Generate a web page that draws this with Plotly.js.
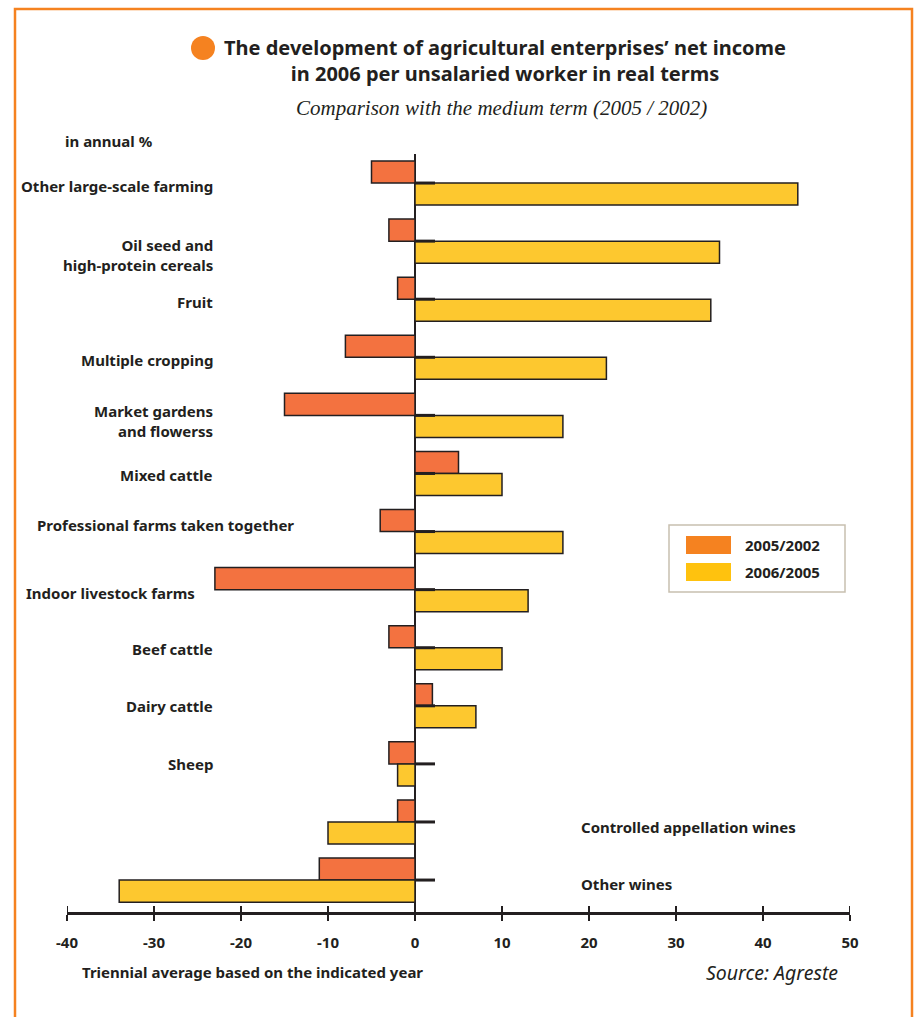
<!DOCTYPE html>
<html>
<head>
<meta charset="utf-8">
<script src="https://cdn.plot.ly/plotly-3.0.1.min.js"></script>
<style>
html,body{margin:0;padding:0;background:#fff;}
#chart{width:917px;height:1017px;}
</style>
</head>
<body>
<div id="chart"></div>
<script>
// ---- data ----
const categories = [
  "Other large-scale farming",
  "Oil seed and high-protein cereals",
  "Fruit",
  "Multiple cropping",
  "Market gardens and flowerss",
  "Mixed cattle",
  "Professional farms taken together",
  "Indoor livestock farms",
  "Beef cattle",
  "Dairy cattle",
  "Sheep",
  "Controlled appellation wines",
  "Other wines"
];
const labelTexts = [
  "Other large-scale farming",
  "Oil seed and<br>high-protein cereals",
  "Fruit",
  "Multiple cropping",
  "Market gardens<br>and flowerss",
  "Mixed cattle",
  "Professional farms taken together",
  "Indoor livestock farms",
  "Beef cattle",
  "Dairy cattle",
  "Sheep",
  "Controlled appellation wines",
  "Other wines"
];
const series2005_2002 = [-5, -3, -2, -8, -15, 5, -4, -23, -3, 2, -3, -2, -11];
const series2006_2005 = [44, 35, 34, 22, 17, 10, 17, 13, 10, 7, -2, -10, -34];
const seriesNames = ["2005/2002", "2006/2005"];
const xTicks = [-40, -30, -20, -10, 0, 10, 20, 30, 40, 50];

// ---- styles / layout helpers ----
const W = 917, H = 1017;
const plotL = 67, plotR = 850, plotT = 154, plotB = 912;
const px = x => (x - plotL) / (plotR - plotL);
const py = y => (plotB - y) / (plotB - plotT);
const ink = "#231F20";
const orangeBar = "#F37240", yellowBar = "#FDC82F";
const orangeKey = "#F58220", yellowKey = "#FFC20E";
const sans = "Noto Sans, Open Sans, sans-serif";
const labelSize = 15;

// label placement (pixels): [x, anchor, yCenter]
const labelPos = [
  [215, "right", 186],
  [215, "right", 255],
  [215, "right", 302],
  [215, "right", 360],
  [215, "right", 421],
  [215, "right", 475],
  [296, "right", 525],
  [197, "right", 593],
  [215, "right", 649],
  [215, "right", 706],
  [215, "right", 764],
  [579, "left", 827],
  [579, "left", 884]
];

const traces = [
  {type: "bar", orientation: "h", name: seriesNames[0], y: categories, x: series2005_2002,
   marker: {color: orangeBar, line: {color: ink, width: 1.5}}, showlegend: false, hoverinfo: "x+y"},
  {type: "bar", orientation: "h", name: seriesNames[1], y: categories, x: series2006_2005,
   marker: {color: yellowBar, line: {color: ink, width: 1.5}}, showlegend: false, hoverinfo: "x+y"}
];

const shapes = [];
const annotations = [];

// frame
shapes.push({type: "rect", xref: "paper", yref: "paper", x0: px(15), x1: px(912), y0: py(1040), y1: py(9),
  line: {color: orangeKey, width: 2.5}, fillcolor: "rgba(0,0,0,0)", layer: "below"});
// title bullet
shapes.push({type: "circle", xref: "paper", yref: "paper", x0: px(191), x1: px(215), y0: py(60), y1: py(36),
  line: {width: 0}, fillcolor: orangeKey});
// short marks at each category centre
categories.forEach((c, i) => {
  shapes.push({type: "line", xref: "x", yref: "y", x0: 0, x1: 2.3, y0: i, y1: i,
    line: {color: ink, width: 3}});
});
// upward half of the axis ticks
xTicks.forEach(v => {
  shapes.push({type: "line", xref: "x", yref: "paper", x0: v, x1: v, y0: 0, y1: py(906),
    line: {color: ink, width: 2}});
});
// legend box
shapes.push({type: "rect", xref: "paper", yref: "paper", x0: px(669), x1: px(845), y0: py(592), y1: py(525),
  line: {color: "#C8C0B0", width: 1.5}, fillcolor: "#fff"});
shapes.push({type: "rect", xref: "paper", yref: "paper", x0: px(686), x1: px(731), y0: py(554), y1: py(536),
  line: {width: 0}, fillcolor: orangeKey});
shapes.push({type: "rect", xref: "paper", yref: "paper", x0: px(686), x1: px(731), y0: py(581), y1: py(563),
  line: {width: 0}, fillcolor: yellowKey});
annotations.push({xref: "paper", yref: "paper", x: px(743), y: py(545), xanchor: "left", yanchor: "middle",
  text: seriesNames[0], showarrow: false, font: {family: sans, size: labelSize, color: ink, weight: 700}});
annotations.push({xref: "paper", yref: "paper", x: px(743), y: py(572), xanchor: "left", yanchor: "middle",
  text: seriesNames[1], showarrow: false, font: {family: sans, size: labelSize, color: ink, weight: 700}});

// category labels
labelTexts.forEach((t, i) => {
  const p = labelPos[i];
  annotations.push({xref: "paper", yref: "paper", x: px(p[0]), y: py(p[2]), xanchor: p[1], yanchor: "middle",
    align: p[1], text: t, showarrow: false,
    font: {family: sans, size: labelSize, color: ink, weight: 700}});
});

// other texts
annotations.push({xref: "paper", yref: "paper", x: px(501), y: py(108), xanchor: "center", yanchor: "middle",
  text: "Comparison with the medium term (2005 / 2002)", showarrow: false,
  font: {family: "Liberation Serif, Times New Roman, serif", size: 21, color: ink, style: "italic"}});
annotations.push({xref: "paper", yref: "paper", x: px(63), y: py(141), xanchor: "left", yanchor: "middle",
  text: "in annual %", showarrow: false, font: {family: sans, size: labelSize, color: ink, weight: 700}});
annotations.push({xref: "paper", yref: "paper", x: px(80), y: py(972), xanchor: "left", yanchor: "middle",
  text: "Triennial average based on the indicated year", showarrow: false,
  font: {family: sans, size: labelSize, color: ink, weight: 700}});
annotations.push({xref: "paper", yref: "paper", x: px(840), y: py(972), xanchor: "right", yanchor: "middle",
  text: "Source: Agreste", showarrow: false,
  font: {family: sans, size: 19.5, color: ink, style: "italic"}});

const layout = {
  width: W, height: H,
  paper_bgcolor: "#fff", plot_bgcolor: "rgba(0,0,0,0)",
  margin: {l: plotL, r: W - plotR, t: plotT, b: H - plotB, pad: 0},
  title: {
    text: "The development of agricultural enterprises’ net income<br>in 2006 per unsalaried worker in real terms",
    xref: "container", yref: "container", x: 505 / W, xanchor: "center",
    y: 1 - 55 / H, yanchor: "top",
    font: {family: sans, size: 20, color: ink, weight: 700}
  },
  barmode: "group", bargap: 0.24, bargroupgap: 0,
  xaxis: {
    range: [-40, 50], tickvals: xTicks, ticktext: xTicks.map(String),
    showgrid: false, zeroline: true, zerolinecolor: ink, zerolinewidth: 2,
    showline: true, linecolor: ink, linewidth: 3,
    ticks: "outside", ticklen: 6, tickwidth: 2, tickcolor: ink,
    tickfont: {family: sans, size: labelSize, color: ink, weight: 700},
    ticklabelstandoff: 9, fixedrange: true
  },
  yaxis: {
    type: "category", categoryarray: categories, range: [12.55, -0.5],
    showticklabels: false, showgrid: false, zeroline: false, showline: false, ticks: "",
    fixedrange: true
  },
  shapes: shapes,
  annotations: annotations,
  showlegend: false
};

Plotly.newPlot("chart", traces, layout, {displayModeBar: false, staticPlot: true});
</script>
</body>
</html>
